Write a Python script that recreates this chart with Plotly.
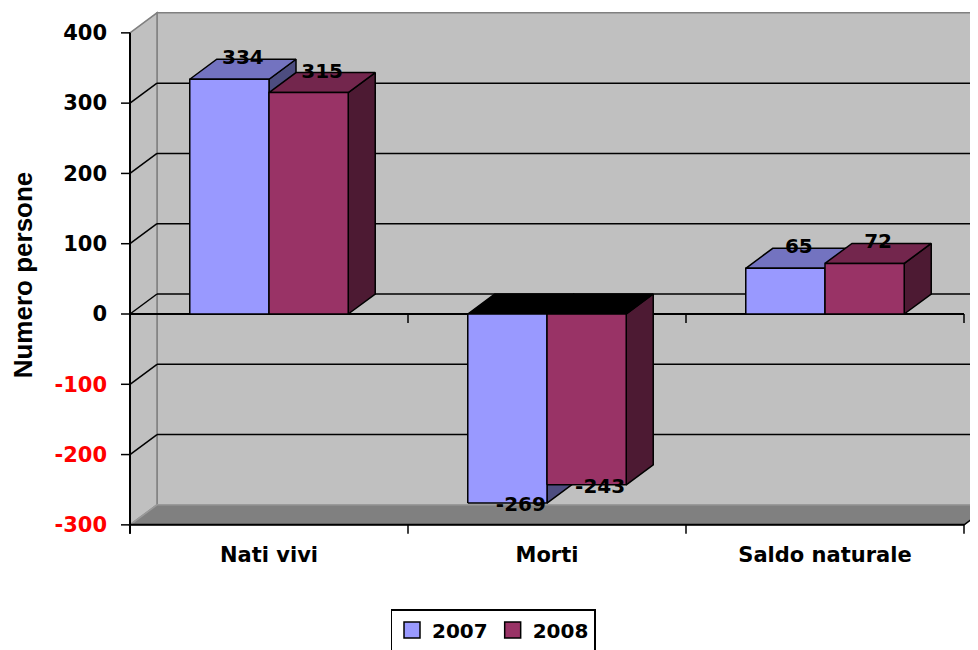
import plotly.graph_objects as go

# data
categories = ["Nati vivi", "Morti", "Saldo naturale"]
years = ["2007", "2008"]
values_2007 = [334, -269, 65]
values_2008 = [315, -243, 72]
y_ticks = [-300, -200, -100, 0, 100, 200, 300, 400]

series = [
    # name, values, front, top, side
    (years[0], values_2007, "#9999ff", "#7373c0", "#4d4d80"),
    (years[1], values_2008, "#993366", "#73264d", "#4d1a33"),
]

# layout calibration, in pixels of the 978x650 page
PAGE_W, PAGE_H = 978, 650
OFF = 8                           # page body margin
PLOT_L, PLOT_T, PLOT_B = 118, 10, 540
X0_PX, CAT_PX = 130, 278          # front left edge, px per category
ZERO_PX, Y_PX = 314, 492 / 700    # y=0 row, px per unit
DX = 27 / CAT_PX                  # depth offset in x units
DY = 20 / Y_PX                    # depth offset in y units
BAR_W = 0.285

W, H = PAGE_W - OFF, PAGE_H - OFF

y_min, y_max = min(y_ticks), max(y_ticks)
x_lo, x_hi = -0.5, len(categories) - 0.5

xr = [x_lo - (X0_PX - PLOT_L) / CAT_PX, x_lo + (PAGE_W - X0_PX) / CAT_PX]
yr = [(ZERO_PX - PLOT_B) / Y_PX, (ZERO_PX - PLOT_T) / Y_PX]

FONT = "DejaVu Sans"

fig = go.Figure()


def poly(xs, ys, fill):
    fig.add_trace(go.Scatter(
        x=xs + [xs[0]], y=ys + [ys[0]], mode="lines", fill="toself",
        fillcolor=fill, line=dict(color="black", width=1.5),
        showlegend=False, hoverinfo="skip"))


# bars as boxes: side, top, front for each series in turn
for i, cat in enumerate(categories):
    for k, (name, vals, c_front, c_top, c_side) in enumerate(series):
        v = vals[i]
        x0 = i - BAR_W + k * BAR_W
        x1 = x0 + BAR_W
        lo, hi = min(0, v), max(0, v)
        top_col = c_top if v >= 0 else "black"
        poly([x1, x1 + DX, x1 + DX, x1], [lo, lo + DY, hi + DY, hi], c_side)
        poly([x0, x1, x1 + DX, x0 + DX], [hi, hi, hi + DY, hi + DY], top_col)
        poly([x0, x1, x1, x0], [lo, lo, hi, hi], c_front)

# data labels
lx, ly, lt = [], [], []
for k, (name, vals, *_ ) in enumerate(series):
    for i, v in enumerate(vals):
        lx.append(i - BAR_W / 2 + k * BAR_W + DX / 2)
        ly.append(v + DY if v >= 0 else v - 3 / Y_PX)
        lt.append(str(v))
fig.add_trace(go.Scatter(
    x=lx, y=ly, text=lt, mode="text", textposition="middle center",
    textfont=dict(family=FONT, size=20, color="black", weight="bold"),
    showlegend=False, hoverinfo="skip", cliponaxis=False))

# legend entries
for name, vals, c_front, _, _ in series:
    fig.add_trace(go.Scatter(
        x=[None], y=[None], mode="markers", name=name,
        marker=dict(symbol="square", size=16, color=c_front,
                    line=dict(color="black", width=1.5))))

# walls, floor, gridlines, axis lines
WALL, EDGE = "#c0c0c0", "#808080"
shapes = []


def path(pts):
    return "M " + " L ".join(f"{x},{y}" for x, y in pts) + " Z"


shapes.append(dict(type="rect", x0=x_lo + DX, x1=x_hi + DX,
                   y0=y_min + DY, y1=y_max + DY,
                   fillcolor=WALL, line=dict(color=EDGE, width=1.5)))
shapes.append(dict(type="path", path=path([
    (x_lo, y_max), (x_lo + DX, y_max + DY), (x_lo + DX, y_min + DY), (x_lo, y_min)]),
    fillcolor=WALL, line=dict(color=EDGE, width=1.5)))
shapes.append(dict(type="path", path=path([
    (x_lo, y_min), (x_hi, y_min), (x_hi + DX, y_min + DY), (x_lo + DX, y_min + DY)]),
    fillcolor="#808080", line=dict(color="#9a9a9a", width=1.5)))

for t in y_ticks:
    if t in (y_min, y_max):
        continue
    shapes.append(dict(type="line", x0=x_lo + DX, x1=x_hi + DX, y0=t + DY, y1=t + DY,
                       line=dict(color="black", width=1.5)))
    shapes.append(dict(type="line", x0=x_lo, x1=x_lo + DX, y0=t, y1=t + DY,
                       line=dict(color="black", width=1.5)))

tick_len_y = 9 / Y_PX
tick_len_x = 9 / CAT_PX
# front floor edge and right diagonal
shapes.append(dict(type="line", x0=x_lo, x1=x_hi, y0=y_min, y1=y_min,
                   line=dict(color="black", width=2)))
shapes.append(dict(type="line", x0=x_hi, x1=x_hi + DX, y0=y_min, y1=y_min + DY,
                   line=dict(color="black", width=1.5)))
# zero line
shapes.append(dict(type="line", x0=x_lo, x1=x_hi, y0=0, y1=0,
                   line=dict(color="black", width=2)))
# y axis line
shapes.append(dict(type="line", x0=x_lo, x1=x_lo, y0=y_max, y1=y_min - tick_len_y,
                   line=dict(color="black", width=2)))
# y ticks
for t in y_ticks:
    shapes.append(dict(type="line", x0=x_lo - tick_len_x, x1=x_lo, y0=t, y1=t,
                       line=dict(color="black", width=1.5)))
# category ticks, on the zero line and at the bottom
for j in range(len(categories) + 1):
    xt = x_lo + j
    shapes.append(dict(type="line", x0=xt, x1=xt, y0=y_min, y1=y_min - tick_len_y,
                       line=dict(color="black", width=1.5)))
    if j > 0:
        shapes.append(dict(type="line", x0=xt, x1=xt, y0=0, y1=-tick_len_y,
                           line=dict(color="black", width=1.5)))

for s in shapes:
    s["layer"] = "below"
    s["xref"] = "x"
    s["yref"] = "y"

y_text = [f"<span style='color:#ff0000'>{t}</span>" if t < 0 else str(t) for t in y_ticks]

fig.update_layout(
    width=W, height=H,
    template="none",
    paper_bgcolor="white", plot_bgcolor="white",
    margin=dict(l=PLOT_L - OFF, r=0, t=PLOT_T - OFF, b=PAGE_H - PLOT_B,
                autoexpand=False),
    shapes=shapes,
    showlegend=True,
    legend=dict(orientation="h", xref="container", yref="container",
                x=(493 - OFF) / W, xanchor="center",
                y=1 - (609 - OFF) / H, yanchor="top",
                bordercolor="black", borderwidth=1.5, bgcolor="white",
                font=dict(family=FONT, size=20, color="black", weight="bold"),
                itemwidth=30),
    xaxis=dict(range=xr, tickmode="array", tickvals=list(range(len(categories))),
               ticktext=categories, ticks="", showgrid=False, zeroline=False,
               showline=False, ticklabelstandoff=0,
               tickfont=dict(family=FONT, size=21, color="black", weight="bold")),
    yaxis=dict(range=yr, tickmode="array", tickvals=y_ticks, ticktext=y_text,
               ticks="", showgrid=False, zeroline=False, showline=False,
               ticklabelstandoff=10,
               tickfont=dict(family=FONT, size=21, color="black", weight="bold"),
               title=dict(text="Numero persone", standoff=18,
                          font=dict(family="Liberation Sans", size=26,
                                    color="black", weight="bold"))),
)

fig.write_html("out.html")
